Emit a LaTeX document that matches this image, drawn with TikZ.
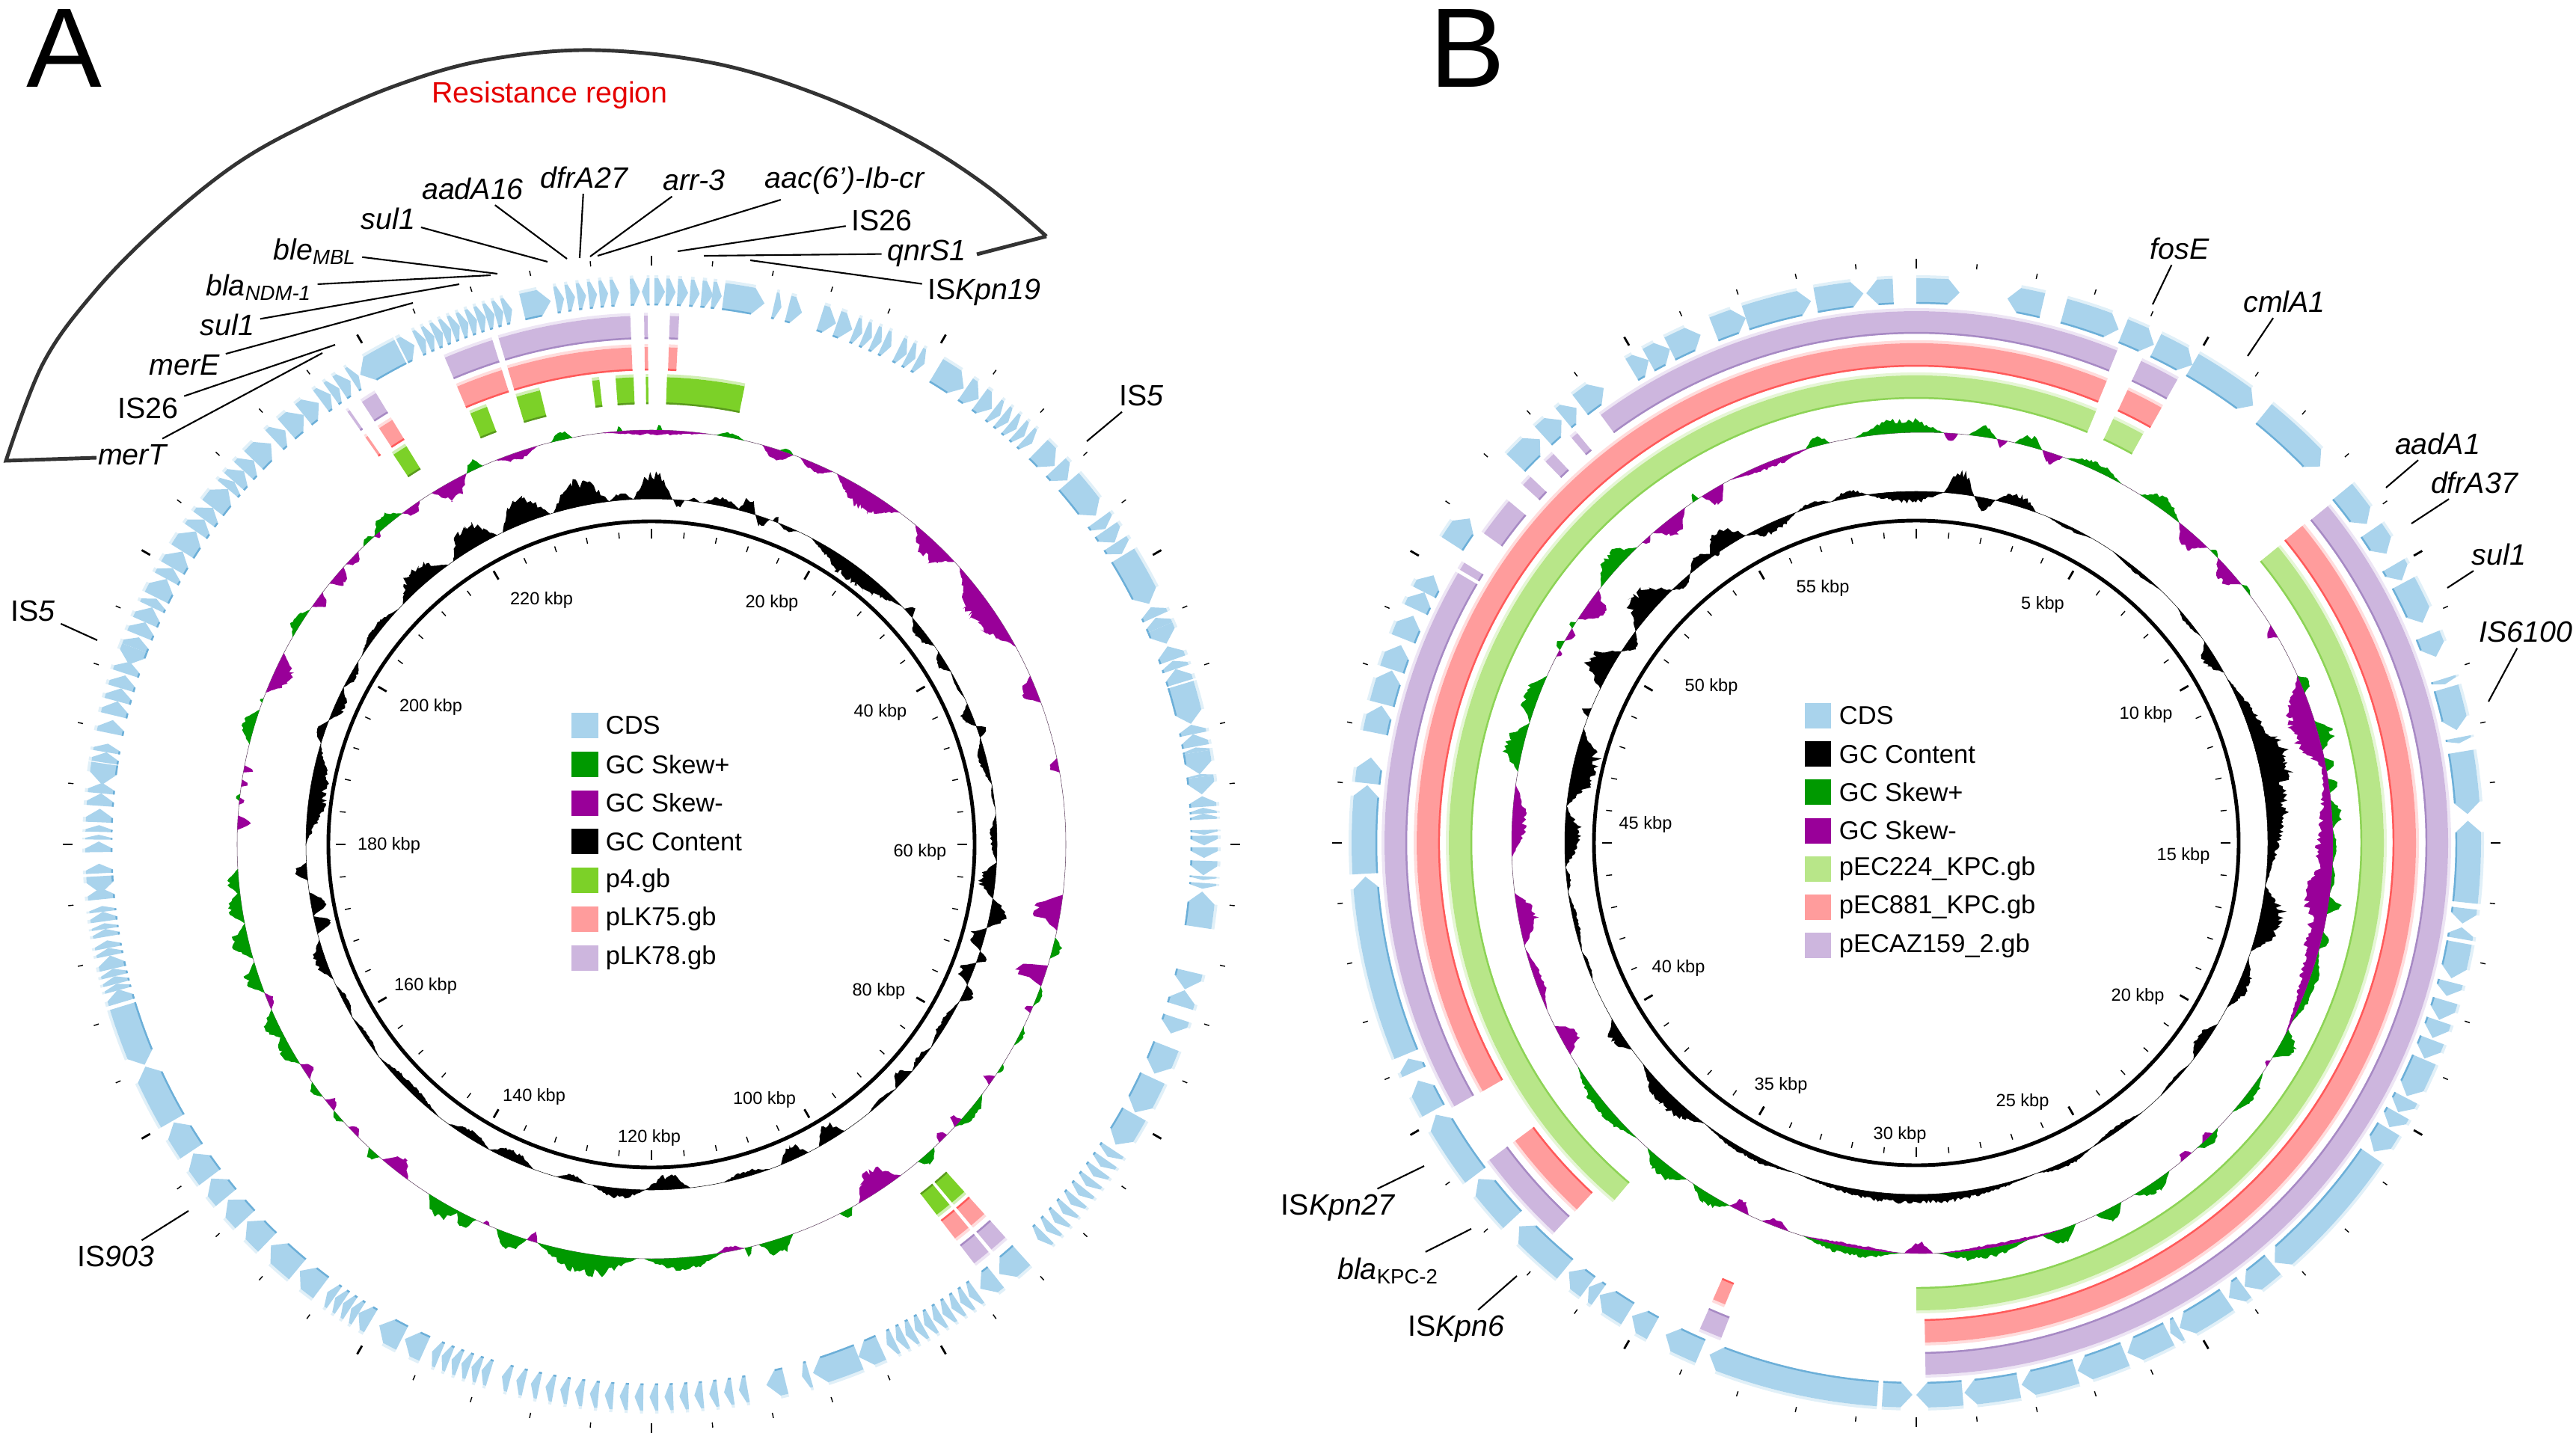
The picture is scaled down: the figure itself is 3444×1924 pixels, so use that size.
\documentclass[tikz,border=0pt]{standalone}
\usepackage{fontspec}
\setmainfont{Liberation Sans}
\usetikzlibrary{positioning}
\definecolor{cdsfill}{HTML}{A9D3EC}
\definecolor{cdsedge}{HTML}{6CAFD8}
\definecolor{skewplus}{HTML}{009900}
\definecolor{skewminus}{HTML}{990099}
\definecolor{pfour}{HTML}{7CD128}
\definecolor{pfouredge}{HTML}{5A9A1E}
\definecolor{lightgreen}{HTML}{B8E689}
\definecolor{lightgreenedge}{HTML}{8DD356}
\definecolor{pink}{HTML}{FF9C9C}
\definecolor{pinkedge}{HTML}{FF5A5A}
\definecolor{lilac}{HTML}{CDB6DE}
\definecolor{lilacedge}{HTML}{A78AC4}
\tikzset{
x=0.01cm, y=0.01cm,
gene label/.style={inner sep=2pt, font=\fontsize{11.2}{12}\selectfont}, % the gene names round the rings
kbp label/.style={inner sep=0pt, font=\fontsize{6.7}{8}\selectfont}, % the scale inside the rings
leader/.style={line width=0.6pt, black}, % lines from a name to its gene
legend box/.style={minimum width=0.35cm, minimum height=0.34cm, inner sep=0pt},
legend text/.style={inner sep=0pt, font=\fontsize{9.8}{11}\selectfont},
panel letter/.style={inner sep=0pt, font=\fontsize{43}{44}\selectfont},
}
% a coloured arc: colour, inner edge, r in, r out, from, to (degrees clockwise from the top)
\newcommand{\band}[6]{
\fill[#1!35] ({90-(#5)}:#4) arc[start angle={90-(#5)}, end angle={90-(#6)}, radius=#4] -- ({90-(#6)}:#4+4) arc[start angle={90-(#6)}, end angle={90-(#5)}, radius=#4+4] -- cycle;
\fill[#1] ({90-(#5)}:#3) arc[start angle={90-(#5)}, end angle={90-(#6)}, radius=#3] -- ({90-(#6)}:#4) arc[start angle={90-(#6)}, end angle={90-(#5)}, radius=#4] -- cycle;
\draw[#2, line width=0.7pt] ({90-(#5)}:#3+1) arc[start angle={90-(#5)}, end angle={90-(#6)}, radius=#3+1];
}
% one gene with its tip at the second angle
\newcommand{\gene}[2]{
\pgfmathsetmacro\gA{#1}
\pgfmathsetmacro\gB{#2}
\pgfmathsetmacro\gT{\gB-(\gB-\gA)/abs(\gB-\gA)*min(1.2,0.65*abs(\gB-\gA))}
\pgfmathsetmacro\gM{(\geneIn+\geneOut)/2}
\fill[cdsfill!35] ({90-\gA}:\geneOut) arc[start angle={90-\gA}, end angle={90-\gT}, radius=\geneOut] -- ({90-\gT}:\geneOut+4) arc[start angle={90-\gT}, end angle={90-\gA}, radius=\geneOut+4] -- cycle;
\fill[cdsfill] ({90-\gA}:\geneIn) arc[start angle={90-\gA}, end angle={90-\gT}, radius=\geneIn] -- ({90-\gB}:\gM) -- ({90-\gT}:\geneOut) arc[start angle={90-\gT}, end angle={90-\gA}, radius=\geneOut] -- cycle;
\draw[cdsedge, line width=0.7pt] ({90-\gA}:\geneIn+1) arc[start angle={90-\gA}, end angle={90-\gT}, radius=\geneIn+1];
}
% one jagged lobe of a plot on a ring: r, colour, from, to, height
\newcommand{\lobe}[5]{
\pgfmathtruncatemacro\lobeN{max(3,abs(#4-(#3))/0.3)}
\fill[#2] ({90-(#3)}:#1) foreach \k in {1,...,\lobeN} { -- ({90-(#3+(#4-(#3))*\k/\lobeN)}:{#1+(#5)*min(1,3*min(\k/\lobeN,1-\k/\lobeN))*(0.62+0.38*rnd)}) } -- ({90-(#4)}:#1) arc[start angle={90-(#4)}, end angle={90-(#3)}, radius=#1] -- cycle;
}
% the scale ticks, inner and outer
\newcommand{\ticks}[4]{
\foreach \t in {0,6,...,354} {
\draw[black, line width=0.4pt] ({90-\t}:#1) -- ({90-\t}:#2);
\draw[black, line width=0.4pt] ({90-\t}:#3) -- ({90-\t}:#4);
}
\foreach \t in {0,30,...,330} {
\draw[black, line width=0.8pt] ({90-\t}:#1-2) -- ({90-\t}:#2+3);
\draw[black, line width=0.8pt] ({90-\t}:#3-3) -- ({90-\t}:#4+3);
}
}

\begin{document}
\begin{tikzpicture}
\useasboundingbox (0,0) rectangle (3444,-1924);
\pgfmathsetseed{7}

\node[panel letter] (panelA) at (86,-64) {A};
\node[panel letter] (panelB) at (1962,-64) {B};

% ---- plasmid A
\begin{scope}[shift={(871,-1129)}]
\def\geneIn{721}\def\geneOut{757}
\foreach \s/\e in {-2.2/-1.2,-0.2/-1,0.3/1.4,1.5/2.5,2.7/3.8,4/5,5.2/6.4,6.3/7.3,7.5/11.8,12.8/13.6,14.3/15.8,17.8/19.5,19.6/21.3,26.5/27.5,31/34.4,34.6/36.3,36.4/38,44.4/46.8,47/48.8,49/53.5,54/55.2,55.3/56.9,57/58.3,58.5/64.2,65.7/64.6,66.9/65.8,66.9/68.7,70.5/69,71.5/70.6,73/71.5,73.2/77.4,78.5/77.5,79.8/78.5,80.4/79.9,80.4/82.7,83/82.7,83/84.8,86.1/85,86.8/86.2,87.4/86.8,88.5/89,89.1/90.1,90.3/91.4,91.7/93.2,93.3/93.7,94/94.6,98.6/94.9,103.3/105.2,107/105.3,108.3/110,111.4/114.5,115/119,119.2/122.9,138/141,141.5/143.5,155.5/158,158/163,163.4/164.2,166/168,204.2/206.5,206.8/209.5,210.5/212,216.7/219.5,219.8/223.5,224/227,227.3/230,230.3/232.8,233/236,236.3/239.8,240/246.3,253/246.5,253.4/254.8,254.7/255.4,255.4/256.2,256.2/257,257/258.4,258.4/259.2,259.2/260,260.4/261.2,261.2/261.8,262/263,263/263.6,264.3/265.5,266.7/264.9,267/268,269.2/270.3,270.5/271,271.3/272,272.3/273.7,274/275.3,275.3/276.4,278.4/276.2,278.5/279.6,279.6/280.5,281.6/283,283.5/285,285/286.4,286.4/287.8,288/289.3,290.8/289,290.8/292,292.2/293.7,293.7/295.4,295.4/296.4,296.5/298.7,298.7/300,300/302,302/304.5,304.5/306,306/307.5,307.5/310,310/311,311/312.5,312.5/314,314/316.5,317/318.5,318.7/321,321/323,323.3/324.5,324.6/325.6,325.7/327,327.2/328,333/328.2,333.2/334.6,346.5/349.5} {\gene{\s}{\e}}
\foreach \s in {21.5,22.6,23.7,24.8,27.6,28.7,38.2,39.3,40.4,41.5,42.6,123.5,124.75,...,135.5,144,145.1,...,154.5,170,171.55,...,195.5,197,198.1,...,203.5,212,213,...,215.5,335,335.95,...,345,350,351.15,...,356.5} {\gene{\s}{\s+0.9}}

\foreach \f/\t in {337.2/339.4,343.2/346.2,352.7/353.6,355.6/357.8,359.3/359.6,1.9/11.5,326.5/328.4,138/140,140.4/142.4} {\band{pfour}{pfouredge}{589}{625}{\f}{\t}}
\foreach \f/\t in {337/342.5,343.2/357.7,359.2/359.6,2/3,326.8/328.6,324.9/325.2,138/140,140.4/142.4} {\band{pink}{pinkedge}{634}{665}{\f}{\t}}
\foreach \f/\t in {337/342.5,343.2/357.7,359.2/359.6,2/3,326.8/328.6,324.9/325.2,138/140,140.4/142.4} {\band{lilac}{lilacedge}{676}{707}{\f}{\t}}

\draw[skewminus!60!skewplus, line width=0.15pt] (0,0) circle[radius=554];
\foreach \f/\t/\h in {-14/-11/12,-4.8/-4/7,0.7/1.5/7,9/13/7,18/20/6,103/106/14,110/113/8,116/119/7,122/123.5/6,127/133/13,137/140/16,151/153/14,160/165/22,166/167/14,170/181/18,182/196/30,197.5/202/22,205/208/20,207.5/212.5/24,221/223/12,228/230/8,232.5/235/10,238/243/18,242/246.5/20,249/253.5/20,254/259/24,259/263.5/20,263/266.6/18,276/277/7,284/289/18,290/290.6/5,300/304.5/13,316/318/7,318/323/17,333.5/336/14,346/349/13} {\lobe{554}{skewplus}{\f}{\t}{\h}}
\foreach \f/\t/\h in {-7/8/-7,15.5/20/-15,21/26/-12,26.6/36.8/-30,39.6/47/-28,48/61.5/-34,66/70/-22,78/80/-16,97/102/-38,107/110/-42,113/114/-10,124/125.5/-14,131.5/133/-14,134.5/136/-14,143/150/-34,167/171/-7,196/197.5/-18,203/204/-6,216/220.5/-22,225/227/-10,230/232/-14,235.5/238/-14,246.5/249/-10,272/274/-18,275.5/276.5/-8,278/279/-12,280/281/-14,291.5/297.5/-26,305/307.5/-16,309/312/-18,312.5/315/-12,318/319/-7,323/326/-12,328/333.5/-26,338/344/-11} {\lobe{554}{skewminus}{\f}{\t}{\h}}

\draw[black, line width=0.15pt] (0,0) circle[radius=462];
\foreach \f/\t/\h in {-7/-3/10,-3/3.5/38,3.6/5.5/-11,6/8/5,8.5/15/12,14.5/17.5/21,17.5/20/-14,20.5/21.5/9,21.5/25/-6,27.5/46.5/-24,47/49/13,49/55/-14,56/60/-12,60/65/-4,66/70/-16,70/72/15,72/80/-11,80/84/-3,85/93/-10,93/99/-24,99/104/24,104/108/-22,108/110/14,110/114/-20,114/117/16,117/126/-9,126/131/-8,131/135/-18,135/141/-6,146/151/-24,153/158/-20,160/168/-8,173.5/181/-20,181/190/14,191/196/-9,200/208/-15,208/216/-12,218/232/-11,232/240/-6,240/246/-7,247/254/16,255/258/-24,258/262/-22,264/267/17,270/287/-24,287/291/12,291/297/-15,297/302/-10,303/313/10,314/324/28,325/333.5/34,334.5/343/38,343.5/353/38} {\lobe{462}{black}{\f}{\t}{\h}}

\draw[black, line width=1.4pt] (0,0) circle[radius=432];
\ticks{411}{419}{777}{784}
\end{scope}

% ---- plasmid B
\begin{scope}[shift={(2562,-1127)}]
\def\geneIn{721}\def\geneOut{755}
\foreach \s/\e in {0/4.5,13.2/9.5,15.5/21.5,22/25.5,25.7/30,30/37.6,39/47,50.5/54.7,55.5/58.4,59.8/61.6,61.9/66.5,67.9/70.3,72.7/73.3,73.7/78.2,79/79.6,80.5/87,96.2/87.7,96.8/98.4,100/98.8,100.4/104.2,104.6/106.1,106.6/108.7,108.8/110.7,110.9/113,113.1/117.3,117.5/119.2,119.3/121,121.2/124,124.5/139.5,139.8/143.5,143.6/145.5,145.8/151.5,151.6/152.6,152.8/157.5,157.8/163,163.2/169,169.3/175,175.2/180,183.5/180.4,184/202,203/207,208.5/211,211.5/215,215.1/216.4,216.5/219,219.5/226,227/232.5,233/240.5,241/244.5,245.5/247,247.5/266.5,266.8/276,276.2/278.9,281.5/284.4,284.6/288.2,288.3/291,291.7/294.3,295/297,297/299,302.8/306,313.5/317,317.5/320,320.3/322,322.5/325.5,329/331,331/333.5,333.5/337,338.5/342,342/349,349.5/354.5,357.6/354.8} {\gene{\s}{\e}}

\foreach \f/\t in {220.2/382.6,24.9/29,50.7/180} {\band{lightgreen}{lightgreenedge}{594}{625}{\f}{\t}}
\foreach \f/\t in {240.2/382.4,25/29.4,50.6/179,222.8/233.4,202.5/204} {\band{pink}{pinkedge}{637}{668}{\f}{\t}}
\foreach \f/\t in {323.6/382.2,25/29.4,50.7/179,222.9/233.4,201.5/204,240.3/300.5,300.9/301.8,305.6/310,312.3/313.5,315.8/317,319.6/320.4} {\band{lilac}{lilacedge}{681}{711}{\f}{\t}}

\begin{scope}[shift={(8,0)}]
\draw[skewminus!60!skewplus, line width=0.15pt] (0,0) circle[radius=549];
\foreach \f/\t/\h in {-9.5/3/20,-16.5/-13/14,6.5/10.5/16,13/17/16,20.5/29/12,32/38.7/17,44.5/46/6,51/53/6,66/68.6/14,72.7/77/22,78/80/12,81/83/16,84/88/14,88/93/5,93/97/5,97.5/100/18,102.5/105/12,105/116/12,117/121.5/24,124/131/12,134/138/12,143/149/16,151/155/20,158/163/20,165/178/14,183/197/12,208/214/16,215/222/20,224/237/16,280/287/26,287/294/22,298/299.5/11,301.5/302.5/7,308.5/316/24,326/327/11} {\lobe{549}{skewplus}{\f}{\t}{\h}}
\foreach \f/\t/\h in {3/5/-13,10.5/12/-11,17/20/-17,38.7/44/-24,46/51/-22,58/60/-13,66/80/-40,76/118/-24,92/103/-34,122/123/-6,135/137/-9,139/141/-11,160/178/-5,178.5/182.5/-16,183/197/-5,199/203/-11,205/208/-16,239/243.5/-28,246/255/-11,255.5/263/-28,268/278.2/-20,297/298/-6,299.5/301.5/-9,303/308/-28,317/318.5/-9,319/324.7/-24,327.5/331/-24,332/344/-9} {\lobe{549}{skewminus}{\f}{\t}{\h}}
\end{scope}

\draw[black, line width=0.15pt] (0,0) circle[radius=470];
\foreach \f/\t/\h in {4.5/9.5/34,13/20/17,22/30/-5,34/44/-6,48/54/-6,62/97/30,70/84/46,97/108/34,109/118/16,150/160/8,160/200/13,200/217/8,217/231/22,234/240/18,247/252/-5,291/292.5/14,296/303/38,307/316/38,320/325/16,324/331/30,331/340/-15,340/346/7,346/352/10,-8/-2.5/-8} {\lobe{470}{black}{\f}{\t}{\h}}
\foreach \f/\t/\h in {-7/4.5/-16,9.5/13/-18,55/61/-18,121/128/-16,129/136/-5,140/150/-7,252/262/-7,262/266/-6,266/276/-22,276/289/-36,303/307/-15,316/320/-10,325/326/-4} {\lobe{470}{black}{\f}{\t}{\h}}

\draw[black, line width=1.4pt] (0,0) circle[radius=431];
\ticks{409}{417}{771}{778}
\end{scope}

% ---- the bracket of the resistance region
\draw[black!80, line width=1.4pt, line join=miter] (1306,-340) -- (1399,-316) plot[smooth, tension=0.6] coordinates {(1399,-316) (1321,-250) (1225,-188) (1100,-129) (957,-85) (794,-67) (651,-80) (536,-112) (421,-161) (316,-219) (211,-304) (124,-393) (57,-487) (8,-616)} -- (129,-612);
\node[inner sep=0pt, text=red!90!black, font=\fontsize{11.2}{12}\selectfont] (resistance) at (735,-127) {Resistance region};

% ---- names on panel A
\node[gene label] (sulA) at (519,-292) {\itshape sul1};
\coordinate (sulAend) at (732,-350);
\draw[leader] (sulA) -- (sulAend);
\node[gene label] (aadA) at (632,-252) {\itshape aadA16};
\coordinate (aadAend) at (758,-346);
\draw[leader] (aadA) -- (aadAend);
\node[gene label] (dfrA) at (781,-237) {\itshape dfrA27};
\coordinate (dfrAend) at (775,-345);
\draw[leader] (dfrA) -- (dfrAend);
\node[gene label] (arrA) at (928,-241) {\itshape arr-3};
\coordinate (arrAend) at (789,-343);
\draw[leader] (arrA) -- (arrAend);
\node[gene label] (aacA) at (1129,-241) {\itshape aac(6')-Ib-cr};
\coordinate (aacAend) at (799,-342);
\draw[leader] (aacA) -- (aacAend);
\node[gene label] (isA) at (1179,-295) {IS26};
\coordinate (isAend) at (906,-336);
\draw[leader] (isA) -- (isAend);
\node[gene label] (qnrA) at (1239,-339) {\itshape qnrS1};
\coordinate (qnrAend) at (941,-342);
\draw[leader] (qnrA) -- (qnrAend);
\node[gene label] (kpnA) at (1316,-391) {IS\textit{Kpn19}};
\coordinate (kpnAend) at (1003,-348);
\draw[leader] (kpnA) -- (kpnAend);
\node[gene label] (bleA) at (421,-336) {\textit{ble}\textsubscript{\textit{MBL}}};
\coordinate (bleAend) at (665,-366);
\draw[leader] (bleA) -- (bleAend);
\node[gene label] (blaA) at (346,-384) {\textit{bla}\textsubscript{\textit{NDM-1}}};
\coordinate (blaAend) at (656,-368);
\draw[leader] (blaA) -- (blaAend);
\node[gene label] (sulAb) at (304,-434) {\itshape sul1};
\coordinate (sulAbend) at (614,-380);
\draw[leader] (sulAb) -- (sulAbend);
\node[gene label] (merE) at (247,-488) {\itshape merE};
\coordinate (merEend) at (552,-405);
\draw[leader] (merE) -- (merEend);
\node[gene label] (isAb) at (198,-546) {IS26};
\coordinate (isAbend) at (448,-461);
\draw[leader] (isAb) -- (isAbend);
\node[gene label] (merT) at (177,-608) {\itshape merT};
\coordinate (merTend) at (431,-472);
\draw[leader] (merT) -- (merTend);
\node[gene label] (isfiveR) at (1526,-529) {IS\textit{5}};
\coordinate (isfiveRend) at (1453,-590);
\draw[leader] (isfiveR) -- (isfiveRend);
\node[gene label] (isfiveL) at (44,-817) {IS\textit{5}};
\coordinate (isfiveLend) at (130,-856);
\draw[leader] (isfiveL) -- (isfiveLend);
\node[gene label] (isnine) at (155,-1680) {IS\textit{903}};
\coordinate (isnineend) at (252,-1619);
\draw[leader] (isnine) -- (isnineend);

% ---- names on panel B
\node[gene label] (fosE) at (2914,-332) {\itshape fosE};
\coordinate (fosEend) at (2878,-407);
\draw[leader] (fosE) -- (fosEend);
\node[gene label] (cmlA) at (3054,-403) {\itshape cmlA1};
\coordinate (cmlAend) at (3005,-476);
\draw[leader] (cmlA) -- (cmlAend);
\node[gene label] (aadB) at (3259,-593) {\itshape aadA1};
\coordinate (aadBend) at (3190,-652);
\draw[leader] (aadB) -- (aadBend);
\node[gene label] (dfrB) at (3308,-645) {\itshape dfrA37};
\coordinate (dfrBend) at (3224,-700);
\draw[leader] (dfrB) -- (dfrBend);
\node[gene label] (sulB) at (3341,-741) {\itshape sul1};
\coordinate (sulBend) at (3272,-786);
\draw[leader] (sulB) -- (sulBend);
\node[gene label] (isB) at (3377,-845) {\itshape IS6100};
\coordinate (isBend) at (3327,-938);
\draw[leader] (isB) -- (isBend);
\node[gene label] (kpnB) at (1789,-1615) {IS\textit{Kpn27}};
\coordinate (kpnBend) at (1904,-1559);
\draw[leader] (kpnB) -- (kpnBend);
\node[gene label] (blaB) at (1856,-1699) {\textit{bla}\textsubscript{KPC-2}};
\coordinate (blaBend) at (1967,-1643);
\draw[leader] (blaB) -- (blaBend);
\node[gene label] (kpnBb) at (1947,-1777) {IS\textit{Kpn6}};
\coordinate (kpnBbend) at (2028,-1706);
\draw[leader] (kpnBb) -- (kpnBbend);

% ---- scale labels
\foreach \t/\px/\py [count=\i] in {220/724/802,20/1032/806,200/576/945,40/1177/952,180/520/1130,60/1230/1139,160/569/1318,80/1175/1325,140/714/1466,100/1022/1470,120/868/1521}
\node[kbp label] (kbpA\i) at (\px,-\py) {\t{} kbp};
\foreach \t/\px/\py [count=\i] in {55/2437/786,5/2731/808,10/2869/955,15/2919/1144,20/2858/1332,25/2704/1473,30/2540/1517,35/2381/1451,40/2244/1294,45/2200/1102,50/2288/918}
\node[kbp label] (kbpB\i) at (\px,-\py) {\t{} kbp};

% ---- legends
\foreach \c/\t [count=\i] in {cdsfill/CDS,skewplus/GC Skew+,skewminus/GC Skew-,black/GC Content,pfour/p4.gb,pink/pLK75.gb,lilac/pLK78.gb} {
\node[legend box, fill=\c] (keyA\i) at (782,{-970-51.8*(\i-1)}) {};
\node[legend text, right=0.09cm of keyA\i] (nameA\i) {\t};
}
\foreach \c/\t [count=\i] in {cdsfill/CDS,black/GC Content,skewplus/GC Skew+,skewminus/GC Skew-,lightgreen/pEC224\_KPC.gb,pink/pEC881\_KPC.gb,lilac/pECAZ159\_2.gb} {
\node[legend box, fill=\c] (keyB\i) at (2430,{-957-51.2*(\i-1)}) {};
\node[legend text, right=0.1cm of keyB\i] (nameB\i) {\t};
}

\end{tikzpicture}
\end{document}
